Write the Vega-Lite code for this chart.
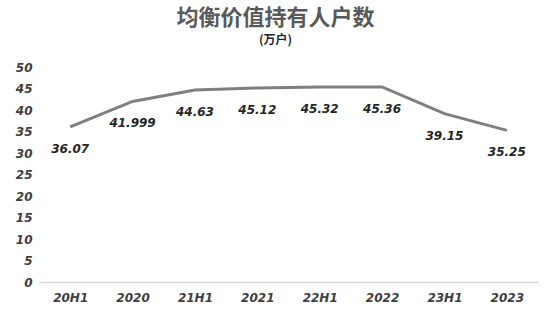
{
  "$schema": "https://vega.github.io/schema/vega-lite/v6.json",
  "width": 499,
  "height": 215,
  "autosize": {"type": "none"},
  "padding": {"left": 39, "top": 67, "right": 13, "bottom": 32},
  "background": "white",
  "title": {
    "text": "均衡价值持有人户数",
    "subtitle": "(万户)",
    "font": "Noto Sans CJK SC",
    "fontSize": 22,
    "fontWeight": "bold",
    "color": "#595959",
    "subtitleFont": "Noto Sans CJK SC",
    "subtitleFontSize": 12,
    "subtitleFontWeight": "bold",
    "subtitleColor": "#262626",
    "subtitlePadding": 5,
    "anchor": "middle",
    "dx": -13,
    "offset": 14
  },
  "data": {
    "values": [
      {"period": "20H1", "value": 36.07, "label": "36.07"},
      {"period": "2020", "value": 41.999, "label": "41.999"},
      {"period": "21H1", "value": 44.63, "label": "44.63"},
      {"period": "2021", "value": 45.12, "label": "45.12"},
      {"period": "22H1", "value": 45.32, "label": "45.32"},
      {"period": "2022", "value": 45.36, "label": "45.36"},
      {"period": "23H1", "value": 39.15, "label": "39.15"},
      {"period": "2023", "value": 35.25, "label": "35.25"}
    ]
  },
  "encoding": {
    "x": {
      "field": "period",
      "type": "ordinal",
      "sort": null,
      "scale": {"paddingInner": 0, "paddingOuter": 0.5},
      "axis": {
        "title": null,
        "labelAngle": 0,
        "ticks": false,
        "grid": false,
        "domainColor": "#d9d9d9",
        "domainWidth": 1.5,
        "labelFont": "DejaVu Sans",
        "labelFontSize": 12,
        "labelFontWeight": "bold",
        "labelFontStyle": "italic",
        "labelColor": "#404040",
        "labelPadding": 10
      }
    },
    "y": {
      "field": "value",
      "type": "quantitative",
      "scale": {"domain": [0, 50], "nice": false},
      "axis": {
        "title": null,
        "values": [0, 5, 10, 15, 20, 25, 30, 35, 40, 45, 50],
        "ticks": false,
        "domain": false,
        "grid": false,
        "labelFont": "DejaVu Sans",
        "labelFontSize": 12,
        "labelFontWeight": "bold",
        "labelFontStyle": "italic",
        "labelColor": "#404040",
        "labelPadding": 7
      }
    }
  },
  "layer": [
    {
      "mark": {"type": "line", "color": "#7f7f7f", "strokeWidth": 3}
    },
    {
      "mark": {
        "type": "text",
        "dy": 22,
        "font": "DejaVu Sans",
        "fontSize": 12,
        "fontWeight": "bold",
        "fontStyle": "italic",
        "color": "#262626"
      },
      "encoding": {"text": {"field": "label"}}
    }
  ],
  "config": {"view": {"stroke": null}}
}
